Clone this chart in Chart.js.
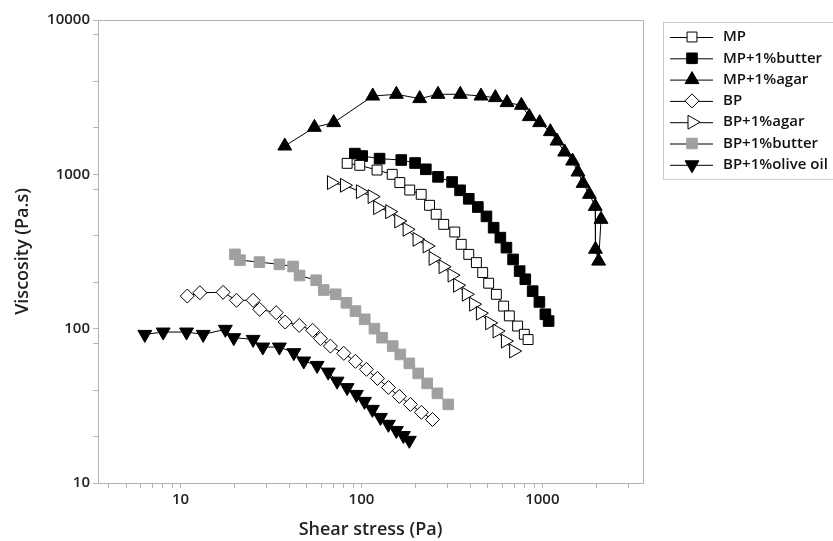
<!DOCTYPE html>
<html>
<head>
<meta charset="utf-8">
<script src="https://cdn.jsdelivr.net/npm/chart.js@4.4.1/dist/chart.umd.min.js"></script>
<style>
    html, body { margin: 0; padding: 0; background: #fff; }
</style>
</head>
<body>
<canvas id="chart-viscosity" width="833" height="541"></canvas>
<script>
// shear stress (Pa) and viscosity (Pa.s)
const mp_stress = [83.4, 97.9, 122, 148, 163, 185, 214, 238, 259, 285, 328, 356, 392, 432, 468, 505, 557, 611, 657, 730, 795, 834];
const mp_visc = [1178, 1144, 1066, 1000, 884, 791, 742, 630, 551, 474, 423, 352, 303, 268, 231, 197, 167, 140, 121, 104, 92, 85];

const mpButter_stress = [92, 101, 126, 166, 198, 227, 265, 317, 351, 392, 440, 491, 538, 586, 633, 689, 749, 805, 884, 963, 1039, 1083];
const mpButter_visc = [1362, 1314, 1264, 1238, 1184, 1078, 963, 892, 788, 694, 614, 534, 451, 389, 335, 281, 236, 209, 175, 149, 124, 112];

const mpAgar_stress = [37.7, 55, 70.3, 115.5, 156, 210, 265, 352, 458, 550, 638, 766, 847, 966, 1107, 1205, 1328, 1469, 1574, 1679, 1819, 1960, 1966, 2047, 2110];
const mpAgar_visc = [1526, 2016, 2163, 3217, 3300, 3095, 3300, 3300, 3217, 3141, 2915, 2801, 2366, 2163, 1891, 1643, 1395, 1219, 1035, 874, 742, 620, 327, 274, 511];

const bp_stress = [10.9, 12.8, 17.2, 20.4, 25.2, 27.4, 33.8, 37.9, 45.3, 53.8, 59.4, 67.4, 79.9, 92.7, 106.6, 122.6, 141, 162, 186.5, 214.5, 247];
const bp_visc = [162.7, 171, 172, 152.6, 152.6, 133.4, 126.9, 110.4, 105, 97.5, 86.1, 77.1, 69.2, 61.4, 54.5, 47.6, 41.6, 36.4, 32.3, 28.7, 25.8];

const bpAgar_stress = [68.3, 80.6, 98.7, 114.6, 123, 143.3, 160.8, 178.9, 203, 230.7, 249, 282.8, 317, 340, 380, 417, 454.5, 511.5, 562, 625, 694];
const bpAgar_visc = [884, 849, 772, 717, 608, 573, 498, 440, 379, 343, 285, 252, 222, 191, 167, 144, 126, 109, 96.5, 83.1, 71.6];

const bpButter_stress = [20, 21.3, 27.3, 35.2, 41.9, 45.5, 56.2, 61.9, 72.1, 82.6, 92.7, 104.3, 118, 130, 149, 164, 184, 206, 231, 263, 302];
const bpButter_visc = [303, 278, 270, 261, 253, 221, 206, 178, 167, 147, 130, 115, 100, 87.4, 77.1, 68.1, 59.6, 51.3, 44.2, 38.1, 32.3];

const bpOlive_stress = [6.35, 8.02, 10.8, 13.35, 17.7, 19.7, 25.2, 28.5, 35.2, 42.3, 48, 56.9, 65.5, 73.4, 83.4, 93.8, 104, 115, 127.4, 141, 156, 170.6, 184];
const bpOlive_visc = [91.8, 95.1, 95.1, 91.8, 99, 87.4, 85.2, 76, 76, 69.9, 61.7, 57.8, 52.3, 45.7, 41.5, 37.5, 33.8, 30, 26.6, 24, 21.9, 20.3, 18.9];

const series_names = ['MP', 'MP+1%butter', 'MP+1%agar', 'BP', 'BP+1%agar', 'BP+1%butter', 'BP+1%olive oil'];

const x_ticks = [4, 5, 6, 7, 8, 9, 10, 20, 30, 40, 50, 60, 70, 80, 90, 100, 200, 300, 400, 500, 600, 700, 800, 900, 1000, 2000, 3000];
const x_labels = [10, 100, 1000];
const y_ticks = [10, 20, 40, 80, 100, 200, 400, 800, 1000, 2000, 4000, 8000, 10000];
const y_labels = [10, 100, 1000, 10000];

const FONT = '"Open Sans", "Noto Sans", sans-serif';
const AXIS_GRAY = '#b4b4b4';

function toPoints(xs, ys) {
    return xs.map((x, i) => ({ x: x, y: ys[i] }));
}

// marker look for each series, in legend order
const marker_styles = [
    { style: 'rect', radius: 7, rotation: 0, fill: '#ffffff', edge: '#000000' },
    { style: 'rect', radius: 7.5, rotation: 0, fill: '#000000', edge: '#000000' },
    { style: 'triangle', radius: 8, rotation: 0, fill: '#000000', edge: '#000000' },
    { style: 'rectRot', radius: 7, rotation: 0, fill: '#ffffff', edge: '#000000' },
    { style: 'triangle', radius: 8, rotation: 90, fill: '#ffffff', edge: '#000000' },
    { style: 'rect', radius: 7.5, rotation: 0, fill: '#a0a0a0', edge: '#a0a0a0' },
    { style: 'triangle', radius: 8, rotation: 180, fill: '#000000', edge: '#000000' }
];

const series_data = [
    toPoints(mp_stress, mp_visc),
    toPoints(mpButter_stress, mpButter_visc),
    toPoints(mpAgar_stress, mpAgar_visc),
    toPoints(bp_stress, bp_visc),
    toPoints(bpAgar_stress, bpAgar_visc),
    toPoints(bpButter_stress, bpButter_visc),
    toPoints(bpOlive_stress, bpOlive_visc)
];

const datasets = series_names.map((name, i) => {
    const m = marker_styles[i];
    return {
        label: name,
        data: series_data[i],
        showLine: true,
        borderColor: '#000000',
        borderWidth: 1,
        tension: 0,
        pointStyle: m.style,
        pointRadius: m.radius,
        pointRotation: m.rotation,
        pointBackgroundColor: m.fill,
        pointBorderColor: m.edge,
        pointBorderWidth: 1
    };
});

// plot frame (top and right edges)
const frameLines = {
    id: 'frameLines',
    afterDatasetsDraw(chart) {
        const { ctx, chartArea } = chart;
        ctx.save();
        ctx.strokeStyle = AXIS_GRAY;
        ctx.lineWidth = 1;
        ctx.beginPath();
        ctx.moveTo(Math.round(chartArea.left) + 0.5, Math.round(chartArea.top) + 0.5);
        ctx.lineTo(Math.round(chartArea.right) + 0.5, Math.round(chartArea.top) + 0.5);
        ctx.lineTo(Math.round(chartArea.right) + 0.5, Math.round(chartArea.bottom) + 0.5);
        ctx.stroke();
        ctx.restore();
    }
};

// boxed legend with line + marker samples
const legendBox = {
    id: 'legendBox',
    afterDraw(chart) {
        const ctx = chart.ctx;
        const left = 663, top = 22, firstRow = 37, rowH = 21.3;
        ctx.save();
        ctx.strokeStyle = '#c8c8c8';
        ctx.lineWidth = 1;
        ctx.strokeRect(left + 0.5, top + 0.5, 200, firstRow - top + rowH * 6 + 14);
        chart.data.datasets.forEach((ds, i) => {
            const y = firstRow + i * rowH;
            const m = marker_styles[i];
            ctx.strokeStyle = '#000000';
            ctx.beginPath();
            ctx.moveTo(670, y + 0.5);
            ctx.lineTo(713, y + 0.5);
            ctx.stroke();
            ctx.fillStyle = m.fill;
            ctx.strokeStyle = m.edge;
            Chart.helpers.drawPoint(ctx, {
                pointStyle: m.style,
                radius: m.radius,
                rotation: m.rotation,
                borderWidth: 1
            }, 692, y);
            ctx.fillStyle = '#111111';
            ctx.font = '600 15px ' + FONT;
            ctx.textBaseline = 'middle';
            ctx.textAlign = 'left';
            ctx.fillText(ds.label, 723, y);
        });
        ctx.restore();
    }
};

new Chart(document.getElementById('chart-viscosity'), {
    type: 'scatter',
    data: { datasets: datasets },
    options: {
        responsive: false,
        animation: false,
        devicePixelRatio: 1,
        layout: { padding: { top: 20, right: 190, bottom: 0, left: 0 } },
        scales: {
            x: {
                type: 'logarithmic',
                min: 3.5,
                max: 3600,
                afterBuildTicks: (scale) => {
                    scale.ticks = x_ticks.map(v => ({ value: v }));
                },
                afterFit: (scale) => { scale.height = 58; },
                ticks: {
                    autoSkip: false,
                    maxRotation: 0,
                    padding: 3,
                    color: '#222222',
                    font: { family: FONT, size: 15, weight: '600' },
                    callback: (v) => x_labels.includes(v) ? String(v) : ''
                },
                grid: { drawOnChartArea: false, drawTicks: true, tickLength: 5, color: AXIS_GRAY },
                border: { color: AXIS_GRAY, width: 1 },
                title: {
                    display: true,
                    text: 'Shear stress (Pa)',
                    color: '#222222',
                    font: { family: FONT, size: 18, weight: '600' },
                    padding: { top: 7, bottom: 0 }
                }
            },
            y: {
                type: 'logarithmic',
                min: 10,
                max: 10000,
                afterBuildTicks: (scale) => {
                    scale.ticks = y_ticks.map(v => ({ value: v }));
                },
                afterFit: (scale) => { scale.width = 98; },
                ticks: {
                    autoSkip: false,
                    padding: 3,
                    color: '#222222',
                    font: { family: FONT, size: 15, weight: '600' },
                    callback: (v) => y_labels.includes(v) ? String(v) : ''
                },
                grid: { drawOnChartArea: false, drawTicks: true, tickLength: 5, color: AXIS_GRAY },
                border: { color: AXIS_GRAY, width: 1 },
                title: {
                    display: true,
                    text: 'Viscosity (Pa.s)',
                    color: '#222222',
                    font: { family: FONT, size: 18, weight: '600' },
                    padding: { top: 12, bottom: 0 }
                }
            }
        },
        plugins: {
            legend: { display: false },
            tooltip: { enabled: false }
        }
    },
    plugins: [frameLines, legendBox]
});
</script>
</body>
</html>
